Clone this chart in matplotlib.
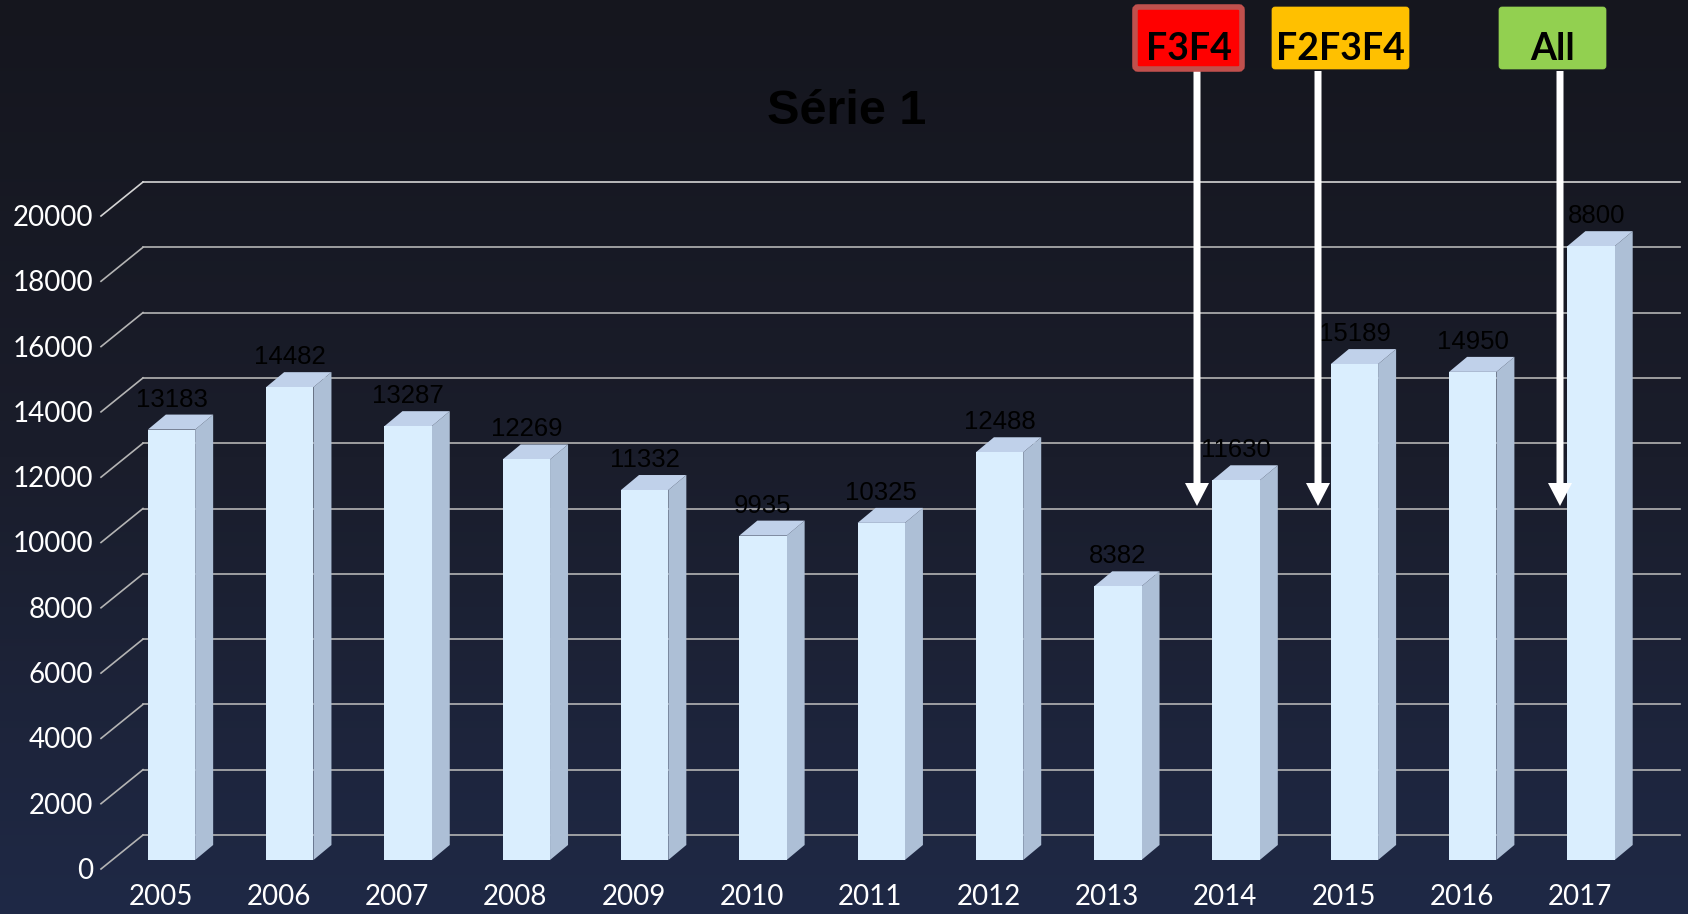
import matplotlib
matplotlib.use('Agg')
import matplotlib.pyplot as plt
import numpy as np
from matplotlib.patches import Polygon, FancyBboxPatch, FancyArrow
from matplotlib.colors import LinearSegmentedColormap
from matplotlib.transforms import IdentityTransform

# données
years = ['2005', '2006', '2007', '2008', '2009', '2010', '2011',
         '2012', '2013', '2014', '2015', '2016', '2017']
values = [13183, 14482, 13287, 12269, 11332, 9935, 10325,
          12488, 8382, 11630, 15189, 14950, 18800]
# le "1" de 18800 est caché par la flèche sur l'original
value_labels = [str(v) for v in values[:-1]] + ['8800']
y_ticks = list(range(0, 20001, 2000))
title = 'Série 1'
phases = ['F3F4', 'F2F3F4', 'All']
phase_colors = ['#ff0000', '#ffc000', '#92d050']
phase_edges = ['#c0504d', '#ffc000', '#92d050']

W, H = 1688, 914
fig = plt.figure(figsize=(W / 100, H / 100), dpi=100)

# fond dégradé
bg = fig.add_axes([0, 0, 1, 1], zorder=-10)
grad = np.linspace(0, 1, 256).reshape(-1, 1)
cmap = LinearSegmentedColormap.from_list('bg', ['#15161e', '#1a1d2b', '#1f2946'])
bg.imshow(grad, aspect='auto', cmap=cmap, extent=[0, 1, 0, 1], origin='upper')
bg.axis('off')

# plan avant des barres
left, right, bottom, top = 112, 1649, 860, 207
ax = fig.add_axes([left / W, (H - bottom) / H, (right - left) / W, (bottom - top) / H])
ax.set_xlim(-0.503, 12.49)
ax.set_ylim(0, 20000)
ax.axis('off')

x0, x1 = ax.get_xlim()
cx = (x1 - x0) / (right - left)   # unités catégorie par pixel
cy = 20000 / (bottom - top)       # unités valeur par pixel

# mur du fond + diagonales
bdx, bdy = 31 * cx, 25 * cy
fdx, fdy = -11 * cx, -9 * cy
for v in y_ticks:
    gc = '#d4d4d4' if v == y_ticks[-1] else '#b4b4b4'
    ax.plot([x0 + bdx, x1 + bdx], [v + bdy, v + bdy], color=gc, lw=1.2,
            clip_on=False, zorder=1)
    ax.plot([x0 + fdx, x0 + bdx], [v + fdy, v + bdy], color=gc, lw=1.2,
            clip_on=False, zorder=1)
    ax.text(x0 + fdx - 8 * cx, v + fdy - 10 * cy, str(v), ha='right', va='baseline',
            color='white', fontsize=20, family='Lato')

# barres 3D
front_c, side_c, top_c = '#daeefe', '#adbfd6', '#c0d1ea'
x = np.arange(len(years))
w = 0.4
sdx, sdy = 18 * cx, 15 * cy
ax.bar(x, values, width=w, color=front_c, zorder=4, clip_on=False)
for xi, v, lab in zip(x, values, value_labels):
    side = Polygon([(xi + w / 2, 0), (xi + w / 2 + sdx, sdy),
                    (xi + w / 2 + sdx, v + sdy), (xi + w / 2, v)],
                   closed=True, fc=side_c, ec='none', zorder=3, clip_on=False)
    topf = Polygon([(xi - w / 2, v), (xi + w / 2, v),
                    (xi + w / 2 + sdx, v + sdy), (xi - w / 2 + sdx, v + sdy)],
                   closed=True, fc=top_c, ec='none', zorder=3, clip_on=False)
    ax.add_patch(side)
    ax.add_patch(topf)
    if lab == str(v):
        ax.text(xi, v + sdy + 8 * cy, lab, ha='center', va='baseline',
                fontsize=18.5, family='Liberation Sans', color='black', zorder=5)
    else:
        ax.text(xi - w / 2, v + sdy + 8 * cy, lab, ha='left', va='baseline',
                fontsize=18.5, family='Liberation Sans', color='black', zorder=5)

for xi, yr in zip(x, years):
    ax.text(xi + fdx, -45 * cy, yr, ha='center', va='baseline',
            color='white', fontsize=20, family='Lato')

# titre
fig.text(847 / W, 1 - 124 / H, title, ha='center', va='baseline',
         fontsize=35, fontweight='bold', family='Liberation Sans', color='black')

# étiquettes de phases + flèches
boxes = [(1133, 1244), (1270, 1411), (1497, 1608)]
arrow_x = [1197, 1318, 1560]
for (bx0, bx1), name, fc, ec, axx in zip(boxes, phases, phase_colors, phase_edges, arrow_x):
    lw = 4 if ec != fc else 0.5
    box = FancyBboxPatch((bx0 + 2, H - 71 + 2), bx1 - bx0 - 4, 66 - 4,
                         boxstyle='round,pad=0,rounding_size=3',
                         fc=fc, ec=ec, lw=lw, transform=IdentityTransform(), zorder=10)
    fig.add_artist(box)
    fig.text((bx0 + bx1) / 2 / W, 1 - 60 / H, name, ha='center', va='baseline',
             fontsize=27, fontweight='bold', family='Lato', color='black', zorder=11)
    arr = FancyArrow(axx, H - 71, 0, -(506 - 71), width=7, head_width=24,
                     head_length=23, length_includes_head=True, fc='white', ec='none',
                     transform=IdentityTransform(), zorder=9)
    fig.add_artist(arr)

fig.savefig('out.png', dpi=100)
